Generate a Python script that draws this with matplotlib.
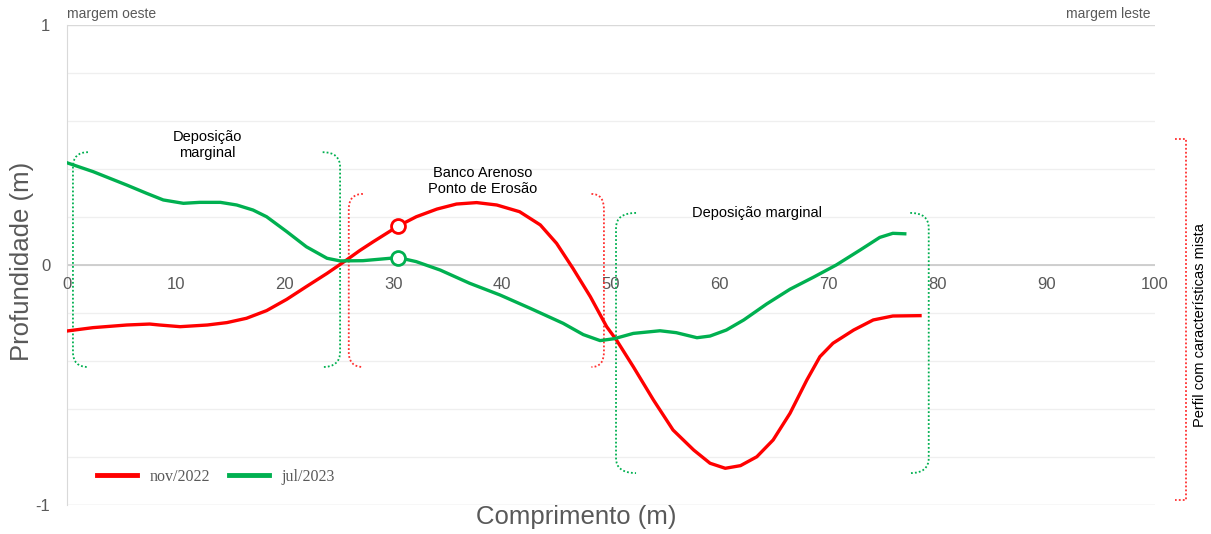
import numpy as np
import matplotlib.pyplot as plt
from matplotlib.path import Path
from matplotlib.patches import PathPatch

plt.rcParams['font.family'] = ['Liberation Sans', 'DejaVu Sans']

# profile data (length in m, depth in m)
nov_x = [0, 2.4, 5.5, 7.6, 8.5, 10.4, 12.9, 14.7, 16.5, 18.35, 20.2, 22.0, 23.9, 25.7, 26.9,
         28.15, 30.45, 32.1, 34.0, 35.8, 37.65, 39.5, 41.6, 43.5, 45.0, 46.5, 48.1, 49.6, 50.5,
         52.05, 53.9, 55.7, 57.6, 59.1, 60.5, 61.9, 63.4, 64.9, 66.45, 68.0, 69.2, 70.4, 72.3,
         74.1, 75.9, 78.4]
nov_y = [-0.275, -0.261, -0.25, -0.246, -0.25, -0.257, -0.25, -0.24, -0.222, -0.19, -0.143,
         -0.09, -0.035, 0.021, 0.06, 0.097, 0.1625, 0.201, 0.233, 0.254, 0.26, 0.25, 0.222,
         0.167, 0.09, -0.014, -0.132, -0.257, -0.3125, -0.424, -0.5625, -0.6875, -0.771,
         -0.826, -0.847, -0.836, -0.799, -0.729, -0.618, -0.479, -0.382, -0.326, -0.271,
         -0.229, -0.2125, -0.211]

jul_x = [0, 2.4, 5.5, 7.3, 8.85, 10.7, 12.2, 14.1, 15.6, 17.1, 18.35, 20.2, 22.0, 23.9, 25.1,
         27.2, 30.45, 32.1, 34.3, 37.0, 39.8, 42.55, 45.6, 47.45, 49.0, 50.3, 52.05, 54.5,
         56.0, 57.9, 59.1, 60.6, 62.2, 64.3, 66.45, 68.6, 70.7, 72.9, 74.7, 75.9, 77.0]
jul_y = [0.426, 0.389, 0.333, 0.299, 0.271, 0.257, 0.261, 0.261, 0.25, 0.229, 0.201, 0.139,
         0.076, 0.028, 0.017, 0.018, 0.031, 0.014, -0.021, -0.076, -0.125, -0.18, -0.243,
         -0.29, -0.315, -0.307, -0.285, -0.274, -0.282, -0.303, -0.296, -0.271, -0.229,
         -0.1625, -0.101, -0.051, 0.0, 0.0625, 0.115, 0.132, 0.13]

marker_x = 30.45
marker_nov = 0.1625
marker_jul = 0.031

x_ticks = [0, 10, 20, 30, 40, 50, 60, 70, 80, 90, 100]
y_ticks = [-1, 0, 1]

# brackets: (x of vertical, x of ends, top, bottom, colour)
brackets = [
    (0.55, 1.93, 0.47, -0.425, '#00B050'),
    (25.1, 23.5, 0.47, -0.425, '#00B050'),
    (25.9, 27.2, 0.296, -0.425, '#FF3030'),
    (49.35, 48.2, 0.296, -0.425, '#FF3030'),
    (50.46, 52.3, 0.217, -0.867, '#00B050'),
    (79.2, 77.5, 0.217, -0.867, '#00B050'),
]

RED = '#FF0000'
GREEN = '#00B050'
GRAY = '#595959'

fig = plt.figure(figsize=(12.11, 5.34), dpi=100)
ax = fig.add_axes([0.0553, 0.0543, 0.8985, 0.8989])
ax.set_xlim(0, 100)
ax.set_ylim(-1, 1)

# grid
for yy in np.arange(-0.8, 0.81, 0.2):
    ax.axhline(yy, color='#efefef', lw=0.9, zorder=0)
ax.axhline(1, color='#d9d9d9', lw=1.0, zorder=0)
ax.axhline(-1, color='#d9d9d9', lw=1.0, zorder=0)
ax.axhline(0, color='#c8c8c8', lw=1.2, zorder=1)

for s in ['top', 'right', 'bottom']:
    ax.spines[s].set_visible(False)
ax.spines['left'].set_color('#d9d9d9')

ax.set_yticks(y_ticks)
ax.set_yticklabels(['-1', '0', '1'])
ax.set_xticks(x_ticks)
ax.tick_params(axis='y', length=0, pad=12, labelsize=12, labelcolor=GRAY)
ax.tick_params(axis='x', length=0)
ax.set_xticklabels([])
# x tick labels placed just under the zero line
for t in x_ticks:
    ax.text(t, -0.05, str(t), ha='center', va='top', fontsize=12, color=GRAY)

ax.plot(nov_x, nov_y, color=RED, lw=2.4, label='nov/2022', zorder=4, solid_joinstyle='round')
ax.plot(jul_x, jul_y, color=GREEN, lw=2.4, label='jul/2023', zorder=4, solid_joinstyle='round')
ax.plot([marker_x], [marker_nov], 'o', ms=10, mfc='white', mec=RED, mew=2, zorder=5)
ax.plot([marker_x], [marker_jul], 'o', ms=10, mfc='white', mec=GREEN, mew=2, zorder=5)

dx_r = 1.4
dy_r = 0.0625
for xv, xe, top, bot, col in brackets:
    verts = [(xe, top), (xv, top), (xv, top - dy_r), (xv, bot + dy_r), (xv, bot), (xe, bot)]
    codes = [Path.MOVETO, Path.CURVE3, Path.CURVE3, Path.LINETO, Path.CURVE3, Path.CURVE3]
    ax.add_patch(PathPatch(Path(verts, codes), fill=False, ec=col, lw=1.3, ls=(0, (1, 1.2)), zorder=3))

# outer bracket for the whole profile
ax.plot([101.8, 102.85, 102.85, 101.8], [0.525, 0.525, -0.98, -0.98], color='#FF3030',
        lw=1.3, ls=(0, (1, 1.2)), clip_on=False)
ax.text(104.1, -0.25, 'Perfil com características mista', rotation=90, ha='center', va='center',
        fontsize=10.5, color='black', clip_on=False)

ax.text(12.9, 0.5, 'Deposição\nmarginal', ha='center', va='center', fontsize=10.5, linespacing=1.15)
ax.text(38.2, 0.35, 'Banco Arenoso\nPonto de Erosão', ha='center', va='center', fontsize=10.5,
        linespacing=1.15)
ax.text(63.4, 0.215, 'Deposição marginal', ha='center', va='center', fontsize=10.5)

ax.text(0, 1.015, 'margem oeste', ha='left', va='bottom', fontsize=10, color=GRAY)
ax.text(99.6, 1.015, 'margem leste', ha='right', va='bottom', fontsize=10, color=GRAY)

fig.text(0.018, 0.51, 'Profundidade (m)', rotation=90, ha='center', va='center', fontsize=18.5, color=GRAY)
fig.text(0.476, 0.032, 'Comprimento (m)', ha='center', va='center', fontsize=18.5, color=GRAY)

leg = ax.legend(loc='lower left', bbox_to_anchor=(0.014, 0.012), ncol=2, frameon=False,
                prop={'family': 'Liberation Serif', 'size': 11.5}, handlelength=2.5,
                columnspacing=1.2, handletextpad=0.8)
for t in leg.get_texts():
    t.set_color(GRAY)
for h in leg.get_lines():
    h.set_linewidth(3.5)

fig.savefig('out.png', dpi=100)
